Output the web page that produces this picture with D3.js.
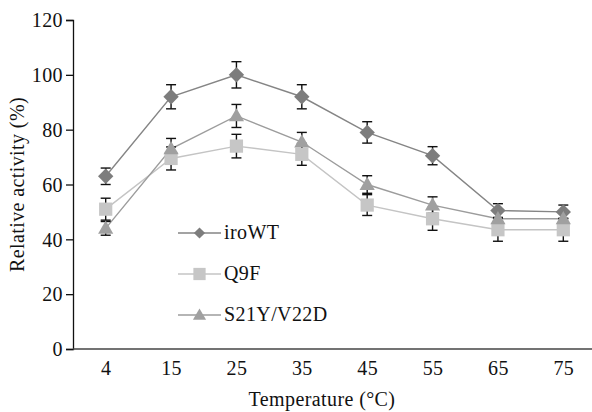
<!DOCTYPE html>
<html>
<head>
<meta charset="utf-8">
<script src="https://cdn.jsdelivr.net/npm/d3@7"></script>
<style>
  body { margin: 0; background: #fff; }
</style>
</head>
<body>
<div id="chart"></div>
<script>
var width = 592;
var height = 412;

var margin = { top: 20, right: 0, bottom: 63, left: 73 };
var font = "Liberation Serif";
var fontSize = 20;

var temps = ["4", "15", "25", "35", "45", "55", "65", "75"];
var yTicks = [0, 20, 40, 60, 80, 100, 120];

var iroWT = [63, 92, 100, 92, 79, 70.5, 50.5, 50];
var iroWTErr = [3, 4.4, 4.8, 4.4, 3.9, 3.3, 2.5, 2.5];

var q9f = [51, 69.5, 74, 71, 52.5, 47.5, 43.5, 43.5];
var q9fErr = [4, 4.2, 4.3, 4, 3.8, 4.2, 4.2, 4.2];

var s21y = [44, 73, 85, 75.5, 60, 52.5, 47.5, 47.5];
var s21yErr = [2.5, 3.8, 4.2, 3.5, 3.2, 3, 2.5, 2.5];

var series = [
  { name: "iroWT", values: iroWT, err: iroWTErr, shape: d3.symbolDiamond2, size: 150, legSize: 80, fill: "#7d7d7d", line: "#858585" },
  { name: "Q9F", values: q9f, err: q9fErr, shape: d3.symbolSquare, size: 175, legSize: 150, fill: "#c6c6c6", line: "#c4c4c4" },
  { name: "S21Y/V22D", values: s21y, err: s21yErr, shape: d3.symbolTriangle, size: 100, legSize: 75, fill: "#a0a0a0", line: "#9c9c9c" }
];

var svg = d3.select("#chart")
  .append("svg")
  .attr("width", width)
  .attr("height", height);

function styleText(sel) {
  sel.style("font-family", font)
    .style("letter-spacing", "0.4px")
    .attr("font-size", fontSize)
    .attr("fill", "#111");
}

var xScale = d3.scalePoint()
  .domain(temps)
  .range([margin.left, 596])
  .padding(0.5);

var yScale = d3.scaleLinear()
  .domain([0, 120])
  .range([height - margin.bottom, margin.top]);

// y axis
var yAxis = d3.axisLeft(yScale).tickValues(yTicks).tickSize(7).tickPadding(3);
var yG = svg.append("g")
  .attr("transform", "translate(" + margin.left + ",0)")
  .call(yAxis);
yG.select(".domain").attr("stroke", "#111").attr("stroke-width", 1.3);
yG.selectAll(".tick line").attr("stroke", "#111").attr("stroke-width", 1.3);
yG.selectAll(".tick text").call(styleText).attr("dy", "0.34em");

// x axis
var xAxis = d3.axisBottom(xScale).tickSize(0).tickPadding(12);
var xG = svg.append("g")
  .attr("transform", "translate(0," + yScale(0) + ")")
  .call(xAxis);
xG.select(".domain").remove();
xG.append("line")
  .attr("x1", margin.left).attr("x2", width)
  .attr("stroke", "#444").attr("stroke-width", 1.6);
xG.selectAll(".tick text").call(styleText);

// lines
var line = d3.line()
  .x((d, i) => xScale(temps[i]))
  .y(d => yScale(d));

series.forEach(function(s) {
  svg.append("path")
    .datum(s.values)
    .attr("fill", "none")
    .attr("stroke", s.line)
    .attr("stroke-width", 1.4)
    .attr("d", line);
});

// error bars
var cap = 5;
series.forEach(function(s) {
  var g = svg.append("g").attr("stroke", "#111").attr("stroke-width", 1.4);
  s.values.forEach(function(v, i) {
    var x = xScale(temps[i]);
    var lo = yScale(v - s.err[i]);
    var hi = yScale(v + s.err[i]);
    g.append("line").attr("x1", x).attr("x2", x).attr("y1", lo).attr("y2", hi);
    g.append("line").attr("x1", x - cap).attr("x2", x + cap).attr("y1", lo).attr("y2", lo);
    g.append("line").attr("x1", x - cap).attr("x2", x + cap).attr("y1", hi).attr("y2", hi);
  });
});

// markers
series.forEach(function(s) {
  svg.selectAll(null)
    .data(s.values)
    .enter()
    .append("path")
    .attr("d", d3.symbol().type(s.shape).size(s.size))
    .attr("transform", (d, i) => "translate(" + xScale(temps[i]) + "," + (yScale(d) + (s.shape === d3.symbolTriangle ? 1 : 0)) + ")")
    .attr("fill", s.fill);
});

// legend
var legend = svg.append("g");
series.forEach(function(s, i) {
  var y = 233 + i * 41;
  legend.append("line")
    .attr("x1", 178).attr("x2", 221)
    .attr("y1", y).attr("y2", y)
    .attr("stroke", s.line).attr("stroke-width", 1.4);
  legend.append("path")
    .attr("d", d3.symbol().type(s.shape).size(s.legSize))
    .attr("transform", "translate(199.5," + (y + (s.shape === d3.symbolTriangle ? 1 : 0)) + ")")
    .attr("fill", s.fill);
  legend.append("text")
    .text(s.name)
    .attr("x", 224)
    .attr("y", y + 6)
    .call(styleText);
});

// axis titles
svg.append("text")
  .text("Temperature (°C)")
  .attr("x", 322)
  .attr("y", 406)
  .attr("text-anchor", "middle")
  .call(styleText);

svg.append("text")
  .text("Relative activity (%)")
  .attr("transform", "translate(24," + yScale(60) + ") rotate(-90)")
  .attr("text-anchor", "middle")
  .call(styleText);
</script>
</body>
</html>
